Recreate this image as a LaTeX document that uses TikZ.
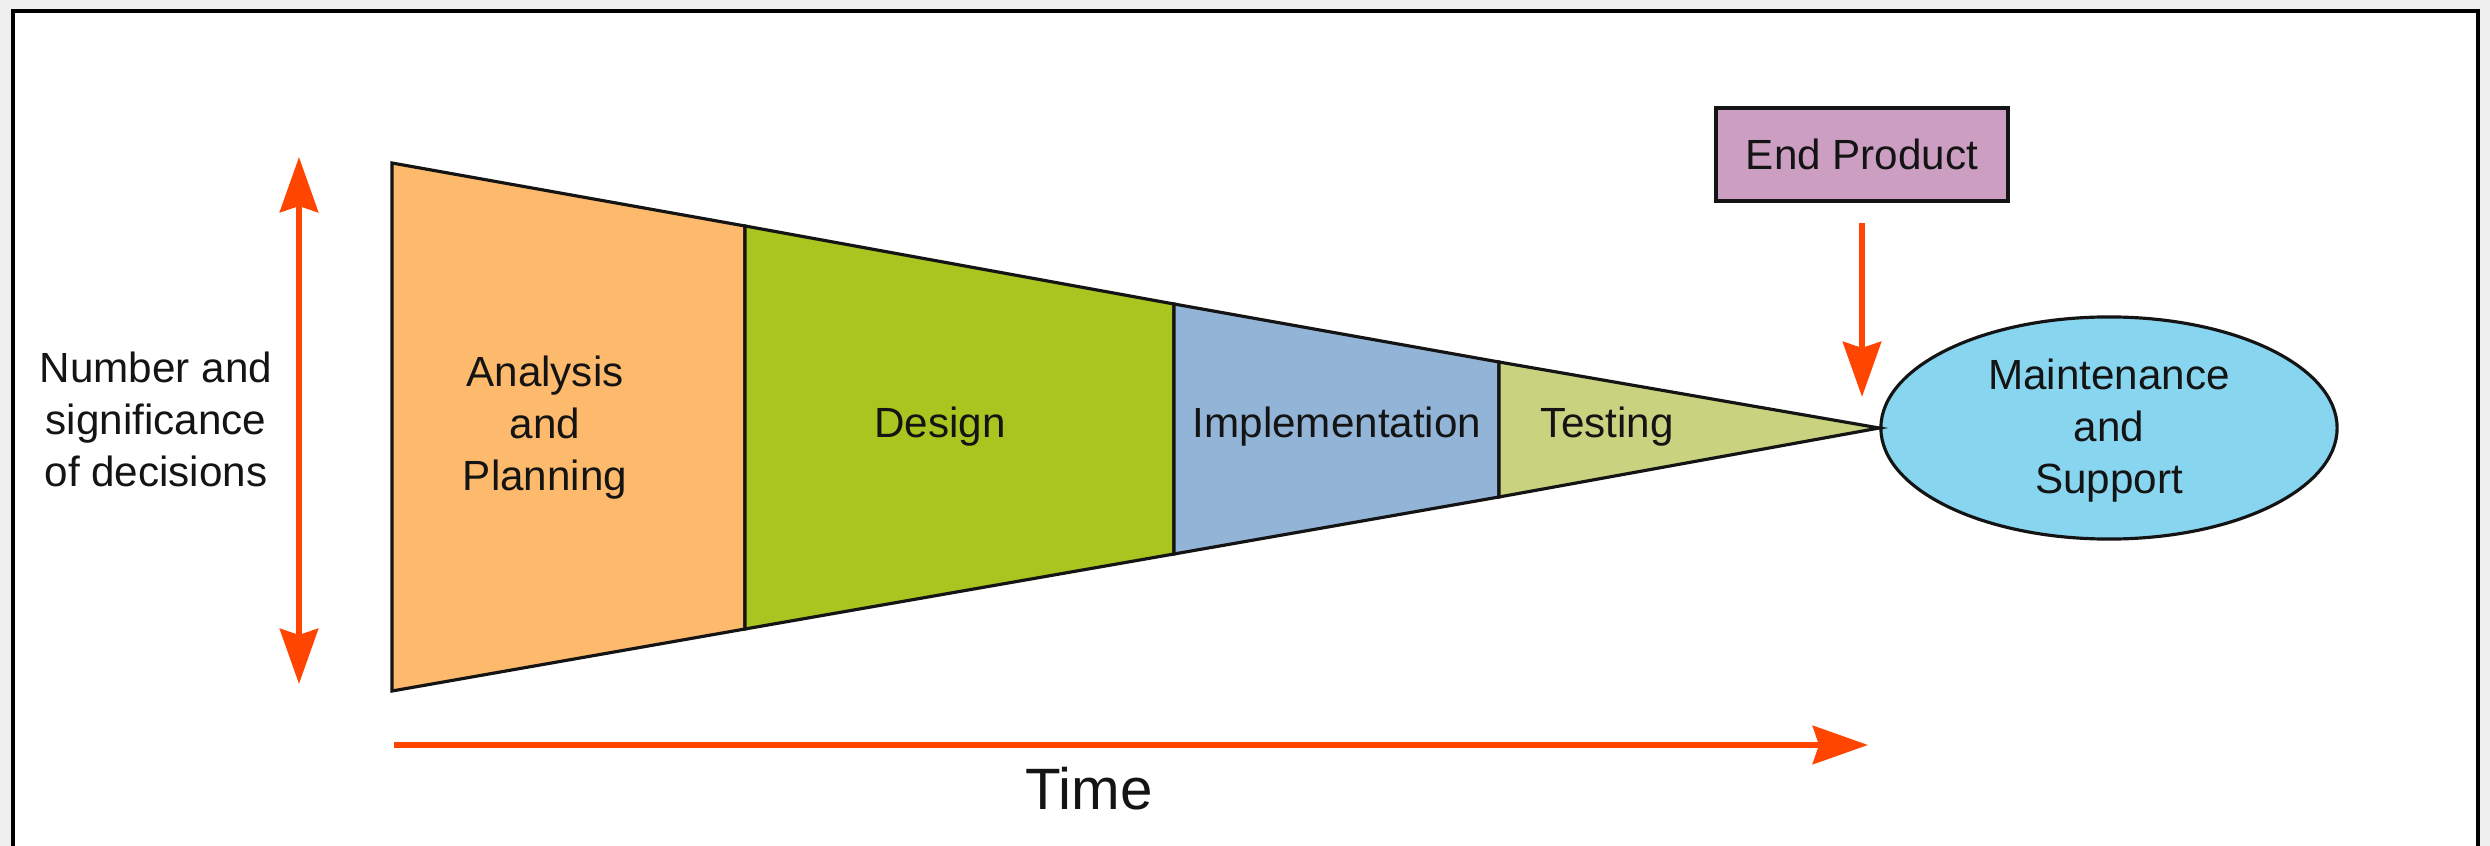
\documentclass[tikz,border=0pt]{standalone}
\usepackage{fontspec}
\setmainfont{Liberation Sans}
\usetikzlibrary{arrows.meta,shapes.geometric}
\definecolor{pgray}{HTML}{EFEFEF}
\definecolor{arrred}{HTML}{FF4500}
\definecolor{cana}{HTML}{FDB96C}
\definecolor{cdes}{HTML}{AAC51F}
\definecolor{cimp}{HTML}{92B4D7}
\definecolor{ctst}{HTML}{C8D27F}
\definecolor{cmnt}{HTML}{87D5EF}
\definecolor{cend}{HTML}{CC9FC2}
\definecolor{ink}{HTML}{141414}
\tikzset{
  seg/.style={draw=ink, line width=0.9pt, line join=miter},
  lbl/.style={text=ink, align=center, font=\fontsize{12}{14.8}\selectfont, inner sep=0pt},
  bigarr/.style={draw=arrred, line width=1.9pt, -{Stealth[length=0.55cm,width=0.38cm,inset=0.06cm]}},
  dblarr/.style={draw=arrred, line width=1.9pt, {Stealth[length=0.55cm,width=0.38cm,inset=0.06cm]}-{Stealth[length=0.55cm,width=0.38cm,inset=0.06cm]}},
}
\begin{document}
\begin{tikzpicture}[x=0.01cm,y=-0.01cm]
\useasboundingbox (0,0) rectangle (2490,846);
\fill[pgray] (0,0) rectangle (2490,846);
\draw[fill=white, draw=black, line width=1pt] (13,11) rectangle (2478,870);

% ellipse and apex
\node[ellipse, draw=ink, line width=0.9pt, fill=cmnt, minimum width=4.56cm, minimum height=2.22cm, inner sep=0pt] (mnt) at (2109,428) {};
\node[lbl] (mnttxt) at (2109,431) {Maintenance\\and\\Support};
\coordinate (apex) at (mnt.west);

% trapezoid corners
\coordinate (t0) at (392,163);  \coordinate (b0) at (392,691);
\coordinate (t1) at (745,226);  \coordinate (b1) at (745,629);
\coordinate (t2) at (1174,304); \coordinate (b2) at (1174,554);
\coordinate (t3) at (1499,362); \coordinate (b3) at (1499,497);

\draw[seg, fill=cana] (t0) -- (t1) -- (b1) -- (b0) -- cycle;
\draw[seg, fill=cdes] (t1) -- (t2) -- (b2) -- (b1) -- cycle;
\draw[seg, fill=cimp] (t2) -- (t3) -- (b3) -- (b2) -- cycle;
\draw[seg, fill=ctst] (t3) -- (apex) -- (b3) -- cycle;

\node[lbl] (ana) at (545,428) {Analysis\\and\\Planning};
\node[lbl] (des) at (940,427) {Design};
\node[lbl] (imp) at (1337,427) {Implementation};
\node[lbl] (tst) at (1607,427) {Testing};

% left label and vertical arrow
\node[lbl] (nsd) at (156,419) {Number and\\significance\\of decisions};
\coordinate (vtop) at (299,157);
\coordinate (vbot) at (299,684);
\draw[dblarr] (vtop) -- (vbot);

% time arrow
\coordinate (tstart) at (394,745);
\coordinate (tend) at (1868,745);
\draw[bigarr] (tstart) -- (tend);
\node[text=ink, font=\fontsize{16.6}{19}\selectfont, inner sep=0pt] (time) at (1089,789) {Time};

% end product
\node[draw=ink, line width=1pt, fill=cend, minimum width=2.92cm, minimum height=0.93cm, inner sep=0pt, font=\fontsize{12}{14.8}\selectfont, text=ink] (ep) at (1862,154.5) {End Product};
\coordinate (eptip) at (1862,397);
\draw[bigarr, shorten <=0.2cm] (ep.south) -- (eptip);
\end{tikzpicture}
\end{document}
